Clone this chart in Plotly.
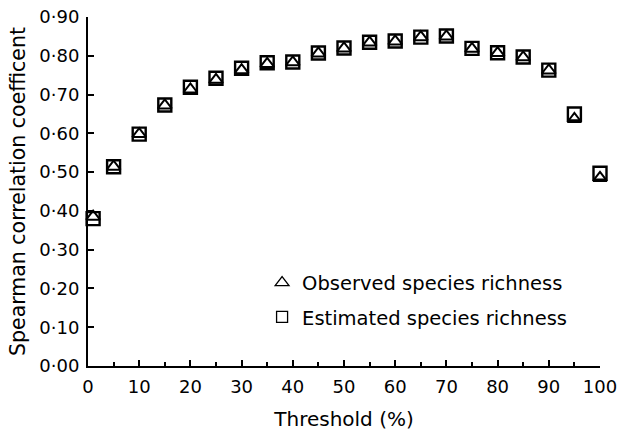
import plotly.graph_objects as go

thresholds = [1, 5, 10, 15, 20, 25, 30, 35, 40, 45, 50, 55, 60, 65, 70, 75, 80, 85, 90, 95, 100]
observed = [0.385, 0.514, 0.598, 0.672, 0.713, 0.738, 0.763, 0.779, 0.783, 0.806, 0.819, 0.834, 0.837, 0.848, 0.850, 0.818, 0.807, 0.796, 0.762, 0.637, 0.485]
estimated = [0.380, 0.514, 0.598, 0.673, 0.719, 0.742, 0.768, 0.782, 0.784, 0.807, 0.820, 0.835, 0.838, 0.848, 0.851, 0.819, 0.808, 0.797, 0.763, 0.650, 0.497]

x_ticks = [0, 10, 20, 30, 40, 50, 60, 70, 80, 90, 100]
y_ticks = [0.0, 0.1, 0.2, 0.3, 0.4, 0.5, 0.6, 0.7, 0.8, 0.9]
y_ticktext = ["0·00", "0·10", "0·20", "0·30", "0·40", "0·50", "0·60", "0·70", "0·80", "0·90"]

FONT = "DejaVu Sans"

fig = go.Figure()
fig.add_trace(go.Scatter(
    x=thresholds, y=estimated, mode="markers", showlegend=False,
    marker=dict(symbol="square-open", size=13, color="black", line=dict(width=2.4, color="black")),
    cliponaxis=False))
fig.add_trace(go.Scatter(
    x=thresholds, y=observed, mode="markers", showlegend=False,
    marker=dict(symbol="triangle-up-open", size=12, color="black", line=dict(width=2.0, color="black")),
    cliponaxis=False))
# legend entries
fig.add_trace(go.Scatter(
    x=[None], y=[None], mode="markers", name="Observed species richness",
    legendgroup="a", legendrank=1,
    marker=dict(symbol="triangle-up-open", size=12, color="black", line=dict(width=1.3, color="black"))))
fig.add_trace(go.Scatter(
    x=[None], y=[None], mode="markers", name="Estimated species richness",
    legendgroup="b", legendrank=2,
    marker=dict(symbol="square-open", size=11, color="black", line=dict(width=1.3, color="black"))))

fig.update_layout(
    width=620, height=431,
    margin=dict(l=88, r=20, t=17, b=65),
    paper_bgcolor="white", plot_bgcolor="white",
    font=dict(family=FONT, color="black", size=17),
    legend=dict(x=0.340, y=0.294, xanchor="left", yanchor="top",
                bgcolor="rgba(0,0,0,0)", borderwidth=0,
                font=dict(family=FONT, size=19.5, color="black"),
                tracegroupgap=6, itemsizing="trace"),
    xaxis=dict(range=[0, 100], tickvals=x_ticks, ticktext=[str(v) for v in x_ticks],
               showgrid=False, zeroline=False, showline=True, linecolor="black", linewidth=2,
               ticks="inside", ticklen=6, tickwidth=2, tickcolor="black",
               minor=dict(dtick=5, ticks="inside", ticklen=4, tickwidth=2, tickcolor="black"),
               tickfont=dict(size=18), ticklabelstandoff=3, fixedrange=True, automargin=False,
               title=dict(text="Threshold (%)", font=dict(size=20), standoff=16)),
    yaxis=dict(range=[0, 0.9], tickvals=y_ticks, ticktext=y_ticktext,
               showgrid=False, zeroline=False, showline=True, linecolor="black", linewidth=2,
               ticks="inside", ticklen=6, tickwidth=2, tickcolor="black",
               tickfont=dict(size=18), ticklabelstandoff=3, fixedrange=True, automargin=False,
               title=dict(text="Spearman correlation coefficent", font=dict(size=20.5), standoff=8)),
)

fig.write_html("out.html")
